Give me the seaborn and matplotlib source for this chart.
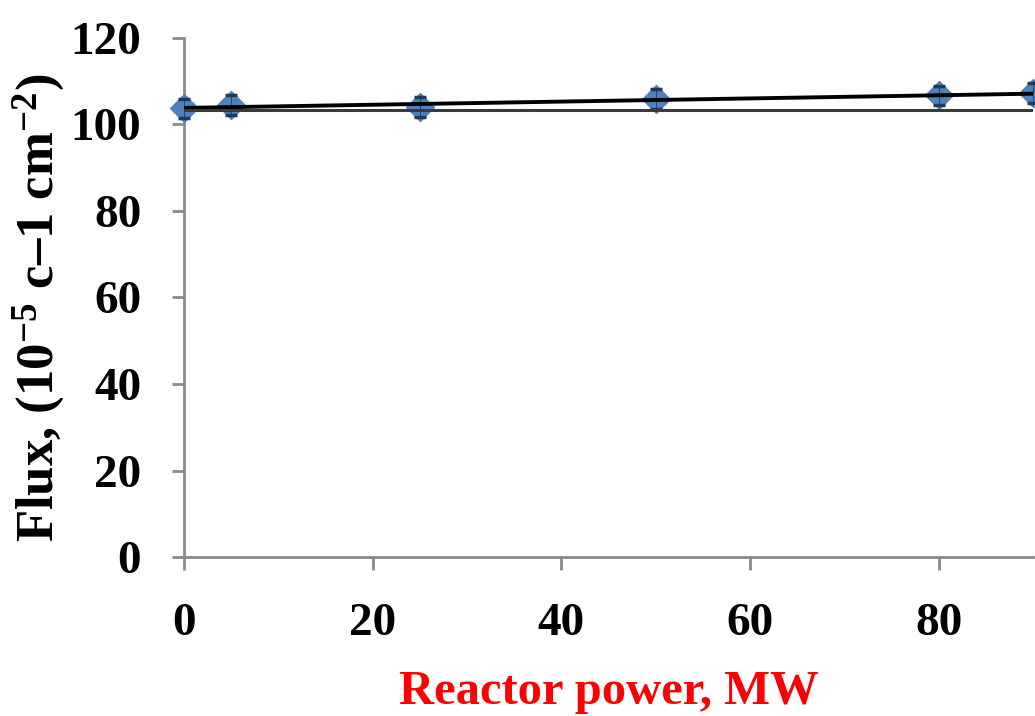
import matplotlib
matplotlib.use("Agg")
import matplotlib.pyplot as plt
import seaborn as sns
import numpy as np
import pandas as pd

# Data
power_mw = [0, 5, 25, 50, 80, 90]
flux = [103.7, 104.6, 104.0, 105.9, 106.7, 107.2]
flux_err = [2.3, 2.3, 2.3, 2.3, 2.3, 2.3]
baseline_flux = 103.4
x_ticks = [0, 20, 40, 60, 80]
y_ticks = [0, 20, 40, 60, 80, 100, 120]

sns.set_theme(style="white")
plt.rcParams['font.family'] = ['Liberation Serif', 'DejaVu Serif']
plt.rcParams['font.weight'] = 'bold'
plt.rcParams['mathtext.fontset'] = 'custom'
plt.rcParams['mathtext.rm'] = 'Liberation Serif:bold'
plt.rcParams['mathtext.it'] = 'Liberation Serif:bold'
plt.rcParams['mathtext.bf'] = 'Liberation Serif:bold'

df = pd.DataFrame({"power": power_mw, "flux": flux, "err": flux_err})

fig = plt.figure(figsize=(10.35, 7.16), dpi=100)
ax = fig.add_axes([0.178, 0.222, 0.820, 0.725])

sns.scatterplot(data=df, x="power", y="flux", marker="D", s=230,
                color="#4F81BD", edgecolor="#4F81BD", linewidth=0, ax=ax, zorder=3,
                clip_on=False)
ax.errorbar(df["power"], df["flux"], yerr=df["err"], fmt="none",
            ecolor="#1f3a5f", elinewidth=0.6, capsize=4, capthick=2.5, zorder=3.5,
            clip_on=False)
sns.regplot(data=df, x="power", y="flux", scatter=False, ci=None, ax=ax,
            line_kws={"color": "black", "linewidth": 2.8, "zorder": 4})
ax.axhline(baseline_flux, color="#3a3a3a", linewidth=2.2, zorder=4)

ax.set_xlim(0, 90)
ax.set_ylim(0, 120)
ax.set_xticks(x_ticks)
ax.set_yticks(y_ticks)

for s in ["top", "right"]:
    ax.spines[s].set_visible(False)
for s in ["left", "bottom"]:
    ax.spines[s].set_color("#8a8a8a")
    ax.spines[s].set_linewidth(2)

ax.tick_params(axis="both", which="major", direction="out", length=9, width=2,
               color="#8a8a8a", labelsize=34, labelcolor="black", left=True, bottom=True)
ax.tick_params(axis="x", pad=24)
ax.tick_params(axis="y", pad=22)
for lbl in ax.get_xticklabels() + ax.get_yticklabels():
    lbl.set_fontweight("bold")

ax.set_xlabel("Reactor power, MW", fontsize=35, fontweight="bold", color="#ff0000", labelpad=18)
ax.set_ylabel(r"Flux, (10$^{-5}$ c–1 cm$^{-2}$)", fontsize=38, fontweight="bold",
              color="black")
ax.yaxis.set_label_coords(-0.138, 0.48)

fig.savefig("out.png", dpi=100, facecolor="white")
